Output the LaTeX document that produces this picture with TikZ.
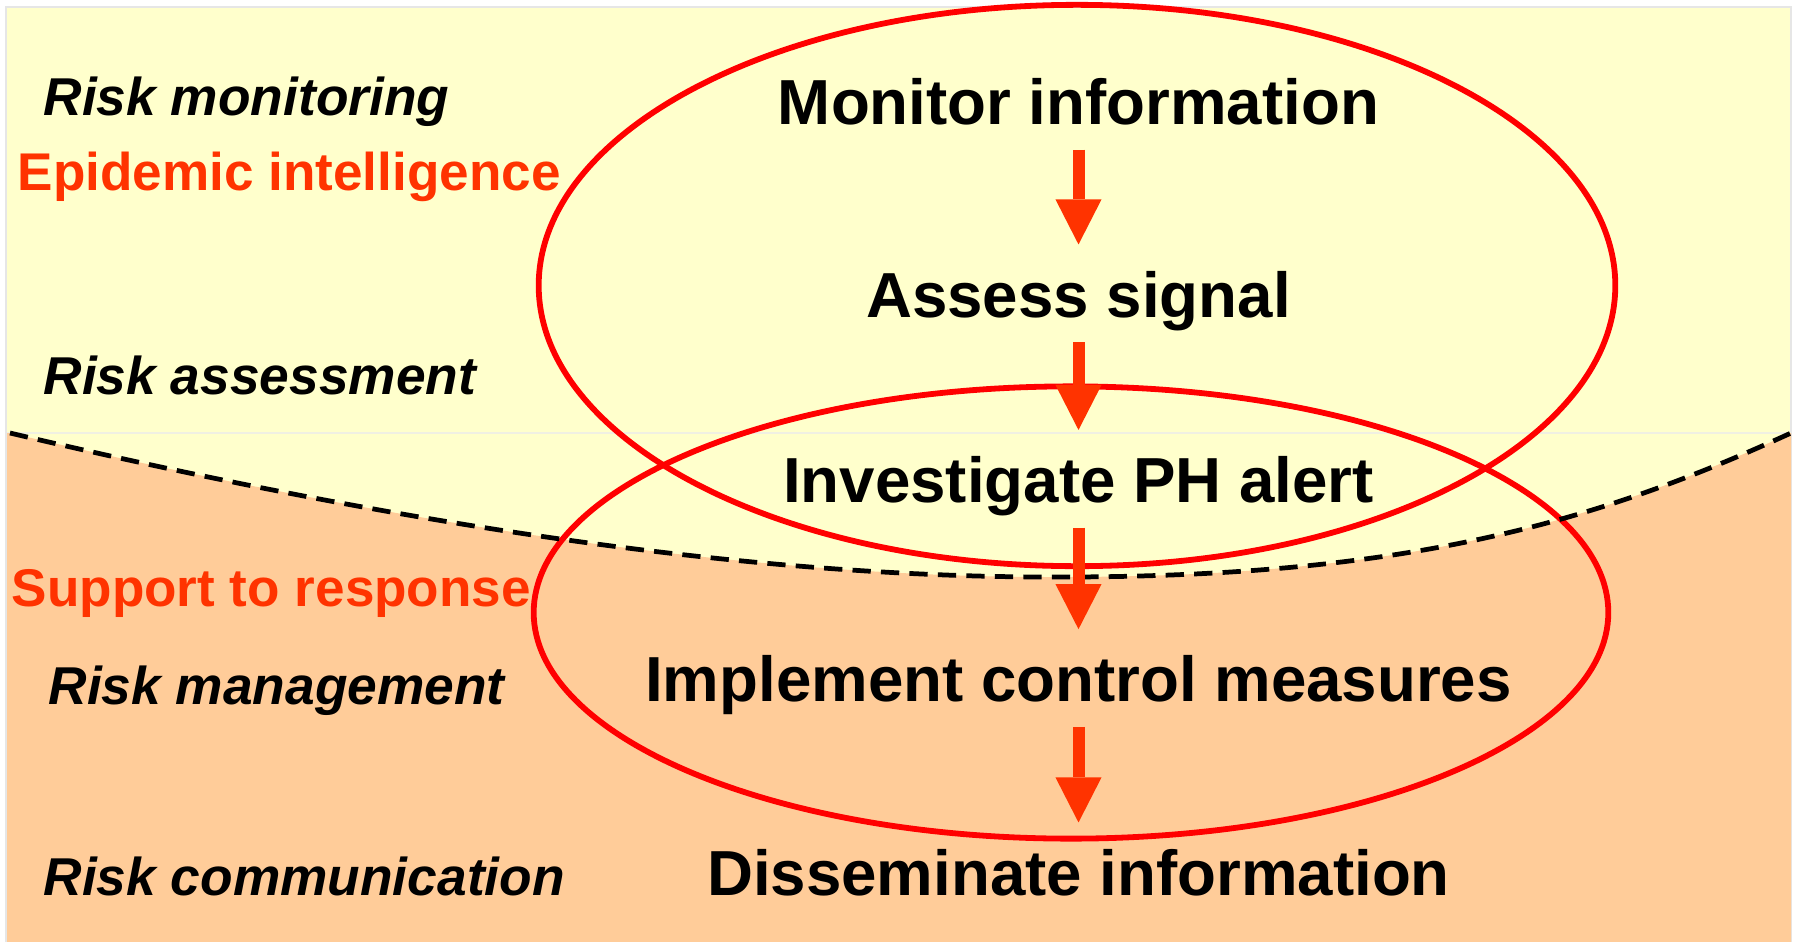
\documentclass[tikz,border=0pt]{standalone}
\usepackage{fontspec}
\setmainfont{Liberation Sans}
\usetikzlibrary{arrows.meta,shapes.geometric}
\definecolor{bgyellow}{HTML}{FFFFCC}
\definecolor{bgpeach}{HTML}{FFCC99}
\definecolor{ringred}{HTML}{FF0000}
\definecolor{flowred}{HTML}{FF3300}
\definecolor{framegray}{HTML}{E6E6E6}
\definecolor{seamline}{HTML}{F0F0E2}
\begin{document}
\begin{tikzpicture}[x=0.01cm,y=-0.01cm,
  stepnode/.style={font=\fontsize{18.1}{22}\selectfont\bfseries, inner sep=0pt,
    text height=0.458cm, text depth=0.134cm, anchor=base},
  sidelabel/.style={font=\fontsize{15.15}{18}\selectfont\bfseries\itshape, inner sep=0pt, anchor=base west},
  phaselabel/.style={font=\fontsize{15.1}{18}\selectfont\bfseries, text=flowred, inner sep=0pt, anchor=base west},
  ring/.style={draw=ringred, ellipse, line width=1.65pt, inner sep=0pt},
  flowarrow/.style={draw=flowred, line width=0.12cm,
    -{Triangle[width=0.46cm,length=0.45cm,line width=0pt]},
    shorten <=0.11cm, shorten >=0.26cm},
  boundary/.style={draw=black, line width=1.35pt, dash pattern=on 5.2pt off 2.9pt}
]
\useasboundingbox (0,0) rectangle (1796,942);
% background
\fill[white] (0,0) rectangle (1796,942);
\filldraw[fill=bgyellow, draw=framegray, line width=0.5pt] (6,7) rectangle (1791,945);
\draw[seamline, line width=0.5pt] (7,433) -- (1791,433);
\fill[bgpeach] (7,433) -- (10,433) .. controls (400,525) and (750,577) .. (1050,577)
   .. controls (1400,578) and (1590,525) .. (1791,433) -- (1791,942) -- (7,942) -- cycle;
% rings
\node[ring, minimum width=10.76cm, minimum height=5.61cm] (ringtop) at (1077,285.5) {};
\node[ring, minimum width=10.74cm, minimum height=4.52cm] (ringbottom) at (1071,612.5) {};
% boundary
\draw[boundary] (10,433) .. controls (400,525) and (750,577) .. (1050,577)
   .. controls (1400,578) and (1590,525) .. (1791,433);
% step texts
\node[stepnode] (monitor) at (1078.5,124.4) {Monitor information};
\node[stepnode] (assess) at (1078.5,317) {Assess signal};
\node[stepnode] (investigate) at (1078.5,502.5) {Investigate PH alert};
\node[stepnode] (implement) at (1078.5,701.7) {Implement control measures};
\node[stepnode] (disseminate) at (1078.5,895) {Disseminate information};
% arrows
\draw[flowarrow] (monitor.south) -- (assess.north);
\draw[flowarrow] (assess.south) -- (investigate.north);
\draw[flowarrow] (investigate.south) -- (implement.north);
\draw[flowarrow] (implement.south) -- (disseminate.north);
% side labels
\node[sidelabel] (rmon) at (43,115) {Risk monitoring};
\node[phaselabel] (epi) at (17,190.7) {Epidemic intelligence};
\node[sidelabel] (rass) at (43,394) {Risk assessment};
\node[phaselabel] (sup) at (11,606.7) {Support to response};
\node[sidelabel] (rman) at (48,704) {Risk management};
\node[sidelabel] (rcom) at (43,895) {Risk communication};
\end{tikzpicture}
\end{document}
